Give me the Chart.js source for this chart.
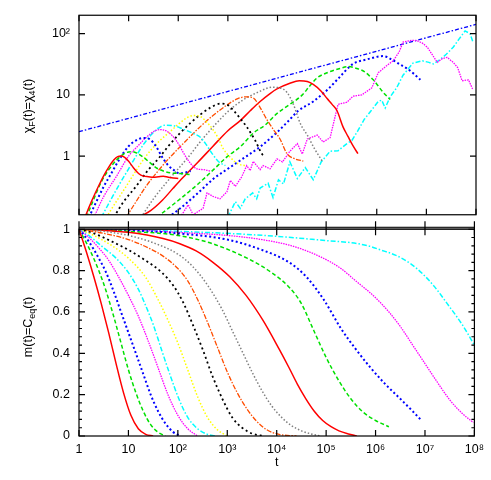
<!DOCTYPE html>
<html><head><meta charset="utf-8">
<script src="https://cdn.jsdelivr.net/npm/chart.js@4.4.1/dist/chart.umd.min.js"></script>
<style>
html,body{margin:0;padding:0;background:#fff;width:491px;height:480px;overflow:hidden;}
#wrap{position:relative;width:491px;height:480px;background:#fff;}
canvas{position:absolute;left:0;}
#cTop{top:0;}
#cBot{top:214px;}
.ytitle{position:absolute;font-family:"Liberation Sans",Arial,sans-serif;font-size:12.5px;white-space:nowrap;transform:translate(-50%,-50%) rotate(-90deg);color:#000;line-height:1;}
.ytitle sub{font-size:9px;vertical-align:-3px;line-height:0;}
</style></head>
<body><div id="wrap">
<canvas id="cTop" width="491" height="230" style="width:491px;height:230px"></canvas>
<canvas id="cBot" width="491" height="266" style="width:491px;height:266px"></canvas>
<div class="ytitle" style="left:28px;top:106px">χ<sub>F</sub>(t)=χ<sub>4</sub>(t)</div>
<div class="ytitle" style="left:28px;top:327px">m(t)=C<sub>eq</sub>(t)</div>
</div>
<script>
// ---------- tick values / labels ----------
const xDecades = [1, 1e1, 1e2, 1e3, 1e4, 1e5, 1e6, 1e7, 1e8];
const xDecadeLabels = ['1', '10', '10\u00B2', '10\u00B3', '10\u2074', '10\u2075', '10\u2076', '10\u2077', '10\u2078'];
const chiTicks = [1, 10, 100];
const chiTickLabels = ['1', '10', '10\u00B2'];
const mTicks = [0, 0.2, 0.4, 0.6, 0.8, 1];
const mTickLabels = ['0', '0.2', '0.4', '0.6', '0.8', '1'];

// ---------- data: [log10(t), value] ----------
// top panel: chi_F(t) = chi_4(t)
const chi1 = [[0.12,0.1],[0.25,0.18],[0.4,0.33],[0.5,0.48],[0.6,0.66],[0.7,0.86],[0.78,0.98],[0.85,1.0],[0.92,0.95],[1.0,0.82],[1.1,0.64],[1.2,0.52],[1.3,0.47],[1.4,0.46],[1.5,0.45],[1.6,0.46],[1.7,0.47],[1.8,0.45],[1.9,0.44],[2.0,0.43]];
const chi2 = [[0.15,0.1],[0.3,0.2],[0.45,0.38],[0.6,0.6],[0.75,0.85],[0.9,1.08],[1.0,1.17],[1.08,1.18],[1.18,1.1],[1.3,0.95],[1.43,0.78],[1.55,0.65],[1.7,0.57],[1.85,0.53],[2.0,0.52],[2.24,0.5]];
const chi3 = [[0.2,0.1],[0.35,0.18],[0.5,0.32],[0.65,0.52],[0.8,0.85],[1.0,1.45],[1.15,1.8],[1.3,1.98],[1.42,1.9],[1.55,1.45],[1.68,0.95],[1.8,0.7],[1.9,0.6],[2.03,0.52],[2.15,0.54],[2.25,0.57]];
const chi4 = [[0.3,0.1],[0.5,0.22],[0.75,0.46],[1.0,1.0],[1.2,1.5],[1.35,2.0],[1.5,2.5],[1.62,2.7],[1.75,2.6],[1.88,2.15],[2.0,1.6],[2.1,1.15],[2.2,0.85],[2.3,0.68],[2.4,0.61],[2.52,0.6],[2.64,0.57]];
const chi5 = [[0.45,0.1],[0.65,0.2],[0.8,0.33],[1.0,0.62],[1.15,1.0],[1.3,1.55],[1.48,2.35],[1.6,2.85],[1.73,3.2],[1.9,3.15],[2.1,2.75],[2.3,2.35],[2.44,2.05],[2.55,1.6],[2.7,1.05],[2.82,0.8],[2.95,0.7]];
const chi6 = [[0.55,0.1],[0.75,0.18],[0.95,0.32],[1.15,0.58],[1.35,1.0],[1.6,1.7],[1.82,2.45],[2.0,3.3],[2.15,4.1],[2.3,4.6],[2.45,4.4],[2.6,3.4],[2.7,2.7],[2.8,2.0],[2.9,1.35],[3.05,0.95],[3.2,0.75],[3.35,0.7]];
const chi7 = [[0.7,0.1],[0.9,0.18],[1.15,0.32],[1.4,0.6],[1.61,0.93],[1.8,1.45],[2.02,2.3],[2.25,3.5],[2.45,4.8],[2.65,6.2],[2.85,7.2],[3.0,6.8],[3.12,5.5],[3.25,4.1],[3.38,3.0],[3.55,1.8],[3.7,1.05],[3.75,1.0]];
const chi8 = [[0.95,0.1],[1.15,0.18],[1.35,0.32],[1.6,0.58],[1.82,0.93],[2.1,1.6],[2.4,2.8],[2.7,4.6],[3.0,7.0],[3.2,8.7],[3.38,9.3],[3.52,8.8],[3.65,6.2],[3.79,3.9],[3.92,2.7],[4.05,1.9],[4.19,1.1],[4.35,0.9],[4.52,0.83]];
const chi9 = [[1.25,0.1],[1.5,0.2],[1.75,0.36],[2.0,0.62],[2.22,1.0],[2.44,1.7],[2.75,3.3],[3.05,5.8],[3.3,8.2],[3.6,11],[3.89,13.3],[4.05,13],[4.19,11],[4.32,7.0],[4.46,3.4],[4.6,2.2],[4.75,1.3],[4.9,0.83]];
const chi10 = [[1.2,0.1],[1.45,0.13],[1.68,0.19],[1.9,0.3],[2.1,0.45],[2.4,0.8],[2.7,1.45],[3.0,2.6],[3.25,3.8],[3.45,5.5],[3.65,7.8],[3.85,10.5],[3.98,12.4],[4.25,15.5],[4.44,17],[4.6,16.5],[4.72,14.8],[4.88,11.5],[5.0,8.7],[5.1,7.0],[5.2,5.5],[5.32,3.0],[5.42,2.1],[5.52,1.48],[5.62,1.1]];
const chi11 = [[1.57,0.1],[1.8,0.14],[2.04,0.2],[2.4,0.35],[2.7,0.59],[3.0,1.0],[3.25,1.42],[3.52,2.4],[3.75,3.2],[3.98,4.9],[4.25,7.0],[4.5,10],[4.65,14],[4.8,19],[5.0,23],[5.26,27],[5.42,29],[5.6,27],[5.75,24],[5.93,17.6],[6.13,11],[6.27,8.4]];
const chi12 = [[1.8,0.1],[2.04,0.14],[2.4,0.25],[2.7,0.42],[3.0,0.62],[3.25,0.85],[3.38,1.0],[3.65,1.42],[3.98,2.4],[4.2,3.6],[4.42,5.5],[4.72,7.8],[5.0,12],[5.2,17.6],[5.52,32],[5.8,38],[6.13,43],[6.3,38],[6.45,32],[6.61,27],[6.75,22],[6.88,17.6]];
const chi13 = [[2.04,0.1],[2.2,0.16],[2.3,0.11],[2.5,0.14],[2.58,0.25],[2.7,0.22],[2.84,0.2],[2.98,0.26],[3.05,0.4],[3.15,0.32],[3.28,0.46],[3.38,0.7],[3.45,0.58],[3.51,0.82],[3.65,0.6],[3.71,0.7],[3.85,0.62],[3.99,0.9],[4.1,0.8],[4.25,1.2],[4.4,1.6],[4.5,1.08],[4.6,1.9],[4.8,2.2],[4.92,1.7],[5.06,2.0],[5.22,7.0],[5.4,7.6],[5.52,9.5],[5.7,10],[5.9,13],[6.03,23],[6.2,30],[6.33,36],[6.45,50],[6.53,73],[6.7,78],[6.81,77],[6.92,70],[7.02,60],[7.22,34],[7.32,39],[7.42,41],[7.54,34],[7.63,28],[7.72,17],[7.85,17.6],[7.94,12]];
const chi14 = [[3.0,0.1],[3.15,0.18],[3.25,0.14],[3.35,0.2],[3.5,0.25],[3.58,0.2],[3.65,0.3],[3.81,0.36],[3.91,0.21],[4.02,0.41],[4.12,0.35],[4.25,0.8],[4.4,0.43],[4.56,0.65],[4.72,0.41],[4.88,0.8],[5.06,1.2],[5.22,1.22],[5.4,1.6],[5.5,1.8],[5.62,2.6],[5.75,4],[5.87,5.3],[6.03,7.8],[6.1,8.2],[6.17,6.1],[6.27,9.3],[6.4,13],[6.53,21],[6.73,33],[6.92,36],[7.05,34],[7.14,32],[7.28,38],[7.4,46],[7.54,60],[7.65,80],[7.78,111],[7.88,100],[7.94,72]];
const powerLaw = [[0,2.5],[8,142]];

// bottom panel: m(t) = C_eq(t)
const m1 = [[0,1],[0.15,0.89],[0.3,0.77],[0.45,0.64],[0.6,0.5],[0.75,0.35],[0.9,0.21],[1.05,0.1],[1.2,0.035],[1.35,0.008],[1.5,0]];
const m2 = [[0,1],[0.2,0.91],[0.4,0.8],[0.55,0.7],[0.7,0.58],[0.85,0.45],[1.0,0.32],[1.15,0.21],[1.3,0.12],[1.45,0.055],[1.6,0.018],[1.75,0]];
const m3 = [[0,1],[0.2,0.94],[0.4,0.86],[0.55,0.79],[0.7,0.7],[0.85,0.6],[1.0,0.5],[1.15,0.4],[1.3,0.3],[1.45,0.2],[1.6,0.12],[1.75,0.06],[1.9,0.02],[2.05,0]];
const m4 = [[0,1],[0.2,0.96],[0.4,0.91],[0.6,0.85],[0.8,0.77],[1.0,0.68],[1.2,0.58],[1.4,0.46],[1.6,0.33],[1.8,0.2],[2.0,0.1],[2.2,0.035],[2.4,0]];
const m5 = [[0,1],[0.25,0.96],[0.5,0.91],[0.75,0.86],[1.0,0.79],[1.2,0.71],[1.35,0.63],[1.5,0.54],[1.68,0.41],[1.85,0.29],[2.02,0.18],[2.2,0.09],[2.4,0.035],[2.6,0.008],[2.75,0]];
const m6 = [[0,1],[0.3,0.97],[0.67,0.92],[1.0,0.86],[1.34,0.77],[1.6,0.66],[1.8,0.56],[2.0,0.45],[2.2,0.32],[2.4,0.19],[2.6,0.09],[2.8,0.03],[3.0,0]];
const m7 = [[0,1],[0.3,0.98],[0.67,0.94],[1.0,0.9],[1.34,0.85],[1.68,0.79],[1.9,0.73],[2.1,0.65],[2.3,0.54],[2.5,0.42],[2.7,0.29],[2.9,0.18],[3.1,0.09],[3.3,0.04],[3.5,0.012],[3.75,0]];
const m8 = [[0,1],[0.5,0.98],[1.0,0.95],[1.4,0.91],[1.7,0.87],[2.0,0.81],[2.2,0.75],[2.4,0.66],[2.6,0.55],[2.8,0.43],[3.0,0.31],[3.2,0.21],[3.4,0.13],[3.6,0.07],[3.8,0.03],[4.05,0.008],[4.4,0]];
const m9 = [[0,1],[0.5,0.99],[1.0,0.97],[1.5,0.935],[2.0,0.88],[2.3,0.82],[2.6,0.73],[2.9,0.61],[3.1,0.51],[3.3,0.41],[3.5,0.31],[3.7,0.22],[3.9,0.145],[4.1,0.09],[4.3,0.05],[4.5,0.025],[4.7,0.01],[4.9,0]];
const m10 = [[0,1],[0.5,0.995],[1.0,0.985],[1.7,0.955],[2.04,0.93],[2.37,0.895],[2.71,0.84],[3.05,0.77],[3.38,0.68],[3.72,0.56],[4.05,0.42],[4.25,0.33],[4.42,0.25],[4.59,0.18],[4.76,0.12],[4.93,0.075],[5.1,0.045],[5.26,0.025],[5.45,0.01],[5.62,0]];
const m11 = [[0,1],[1.0,0.99],[2.0,0.97],[2.7,0.93],[3.4,0.86],[3.9,0.79],[4.25,0.72],[4.5,0.64],[4.75,0.51],[5.0,0.38],[5.25,0.27],[5.5,0.18],[5.75,0.115],[6.0,0.075],[6.27,0.045]];
const m12 = [[0,1],[1.0,0.995],[2.0,0.98],[3.0,0.95],[3.7,0.9],[4.25,0.84],[4.6,0.77],[4.95,0.66],[5.3,0.52],[5.6,0.42],[5.9,0.33],[6.2,0.25],[6.5,0.18],[6.75,0.12],[6.91,0.08]];
const m13 = [[0,1],[1.0,0.998],[2.0,0.985],[3.0,0.97],[3.7,0.95],[4.3,0.92],[4.9,0.865],[5.3,0.81],[5.6,0.75],[5.95,0.68],[6.27,0.6],[6.5,0.53],[6.75,0.44],[7.0,0.35],[7.25,0.26],[7.5,0.175],[7.75,0.11],[7.98,0.065]];
const m14 = [[0,1],[1.0,0.999],[2.0,0.99],[3.4,0.975],[4.3,0.96],[5.0,0.945],[5.5,0.935],[5.85,0.92],[6.1,0.9],[6.4,0.875],[6.7,0.835],[6.95,0.785],[7.2,0.72],[7.45,0.64],[7.75,0.54],[8.0,0.44]];

// ---------- styles ----------
const styles = [
  {c:'#ff0000', d:[],            w:1.5}, // red
  {c:'#00e000', d:[4,2.5],       w:1.5}, // green
  {c:'#0000ff', d:[2,2.5],       w:2},   // blue
  {c:'#ff00ff', d:[1.5,1],       w:1.3}, // magenta
  {c:'#00ffff', d:[5,2,1.5,2],   w:1.5}, // cyan
  {c:'#ffff00', d:[1.5,2],       w:1.5}, // yellow
  {c:'#000000', d:[2,3],         w:1.8}, // black
  {c:'#ff4d00', d:[5,1.5,1.5,1.5], w:1.3}, // orange
  {c:'#808080', d:[1.5,2],       w:1.5}  // gray
];
const chiSeries = [chi1,chi2,chi3,chi4,chi5,chi6,chi7,chi8,chi9,chi10,chi11,chi12,chi13,chi14];
const mSeries = [m1,m2,m3,m4,m5,m6,m7,m8,m9,m10,m11,m12,m13,m14];
const noisy = [12, 13];

function toPts(pairs){ return pairs.map(p => ({x: Math.pow(10, p[0]), y: p[1]})); }
function mkDs(pairs, i, smooth){
  const s = styles[i % styles.length];
  return {data: toPts(pairs), borderColor: s.c, borderDash: s.d, borderWidth: s.w,
    pointRadius: 0, fill: false, clip: 0,
    cubicInterpolationMode: smooth ? 'monotone' : 'default', tension: 0};
}
const FONT = {family: '"Liberation Sans", Arial, sans-serif', size: 12.5, lineHeight: 1};

const framePlugin = {
  id: 'frame',
  afterDatasetsDraw(chart, args, o) {
    const {ctx, chartArea: a, scales} = chart;
    ctx.save();
    ctx.strokeStyle = '#000';
    ctx.lineWidth = 1.2;
    if (o.band) {
      ctx.fillStyle = '#8c8c8c';
      ctx.fillRect(a.left, a.top - o.band, a.right - a.left, o.band);
      ctx.beginPath();
      ctx.moveTo(a.left, a.top - o.band); ctx.lineTo(a.right, a.top - o.band);
      ctx.stroke();
    }
    ctx.strokeRect(a.left, a.top, a.right - a.left, a.bottom - a.top);
    ctx.beginPath();
    for (const v of xDecades) {
      const px = scales.x.getPixelForValue(v);
      ctx.moveTo(px, a.top - (o.band || 0)); ctx.lineTo(px, a.top + 6);
      ctx.moveTo(px, a.bottom); ctx.lineTo(px, a.bottom - 6);
      if (o.band) { ctx.moveTo(px, a.top - o.band); ctx.lineTo(px, a.top - o.band - 6); }
    }
    for (const v of o.yMajor) {
      const py = scales.y.getPixelForValue(v);
      ctx.moveTo(a.left, py); ctx.lineTo(a.left + 6, py);
      ctx.moveTo(a.right, py); ctx.lineTo(a.right - 6, py);
    }
    for (const v of o.yMinor) {
      const py = scales.y.getPixelForValue(v);
      ctx.moveTo(a.left, py); ctx.lineTo(a.left + 3, py);
      ctx.moveTo(a.right, py); ctx.lineTo(a.right - 3, py);
    }
    ctx.stroke();
    ctx.restore();
  }
};

// ---------- top chart ----------
const topDatasets = chiSeries.map((d, i) => mkDs(d, i, !noisy.includes(i)));
topDatasets.push({data: toPts(powerLaw), borderColor: '#0000ff', borderDash: [4,2,1.5,2], borderWidth: 1.3, pointRadius: 0, fill: false, clip: 0});

new Chart(document.getElementById('cTop'), {
  type: 'line',
  data: {datasets: topDatasets},
  options: {
    responsive: false, animation: false, events: [],
    layout: {padding: {left: 0, right: 15, top: 8, bottom: 9}},
    plugins: {legend: {display: false}, tooltip: {enabled: false},
      frame: {yMajor: chiTicks, yMinor: []}},
    scales: {
      x: {type: 'logarithmic', min: 1, max: 1e8, display: false},
      y: {type: 'logarithmic', min: 0.11, max: 200,
        grid: {display: false, drawTicks: false}, border: {display: false},
        afterBuildTicks: s => { s.ticks = chiTicks.map(v => ({value: v})); },
        afterFit: s => { s.width = 79; },
        ticks: {font: FONT, color: '#000', padding: 9,
          callback: (v) => chiTickLabels[chiTicks.indexOf(v)] ?? ''}
      }
    }
  },
  plugins: [framePlugin]
});

// ---------- bottom chart ----------
const mMinor = [];
for (let k = 1; k < 25; k++) { if (k % 5) mMinor.push(k * 0.04); }
const botDatasets = mSeries.map((d, i) => mkDs(d, i, true));

new Chart(document.getElementById('cBot'), {
  type: 'line',
  data: {datasets: botDatasets},
  options: {
    responsive: false, animation: false, events: [],
    layout: {padding: {left: 0, right: 15, top: 9, bottom: 0}},
    plugins: {legend: {display: false}, tooltip: {enabled: false},
      frame: {yMajor: mTicks, yMinor: mMinor, band: 2}},
    scales: {
      x: {type: 'logarithmic', min: 1, max: 1e8,
        grid: {display: false, drawTicks: false}, border: {display: false},
        afterBuildTicks: s => { s.ticks = xDecades.map(v => ({value: v})); },
        afterFit: s => { s.height = 44; },
        ticks: {font: FONT, color: '#000', padding: 7, maxRotation: 0, autoSkip: false,
          callback: (v) => xDecadeLabels[xDecades.indexOf(v)] ?? ''},
        title: {display: true, text: 't', font: {family: FONT.family, size: 12.5, lineHeight: 1}, color: '#000', padding: {top: 0, bottom: 11}}
      },
      y: {type: 'linear', min: 0, max: 1,
        grid: {display: false, drawTicks: false}, border: {display: false},
        afterBuildTicks: s => { s.ticks = mTicks.map(v => ({value: v})); },
        afterFit: s => { s.width = 79; },
        ticks: {font: FONT, color: '#000', padding: 9,
          callback: (v) => mTickLabels[mTicks.indexOf(v)] ?? ''}
      }
    }
  },
  plugins: [framePlugin]
});
</script>
</body></html>
